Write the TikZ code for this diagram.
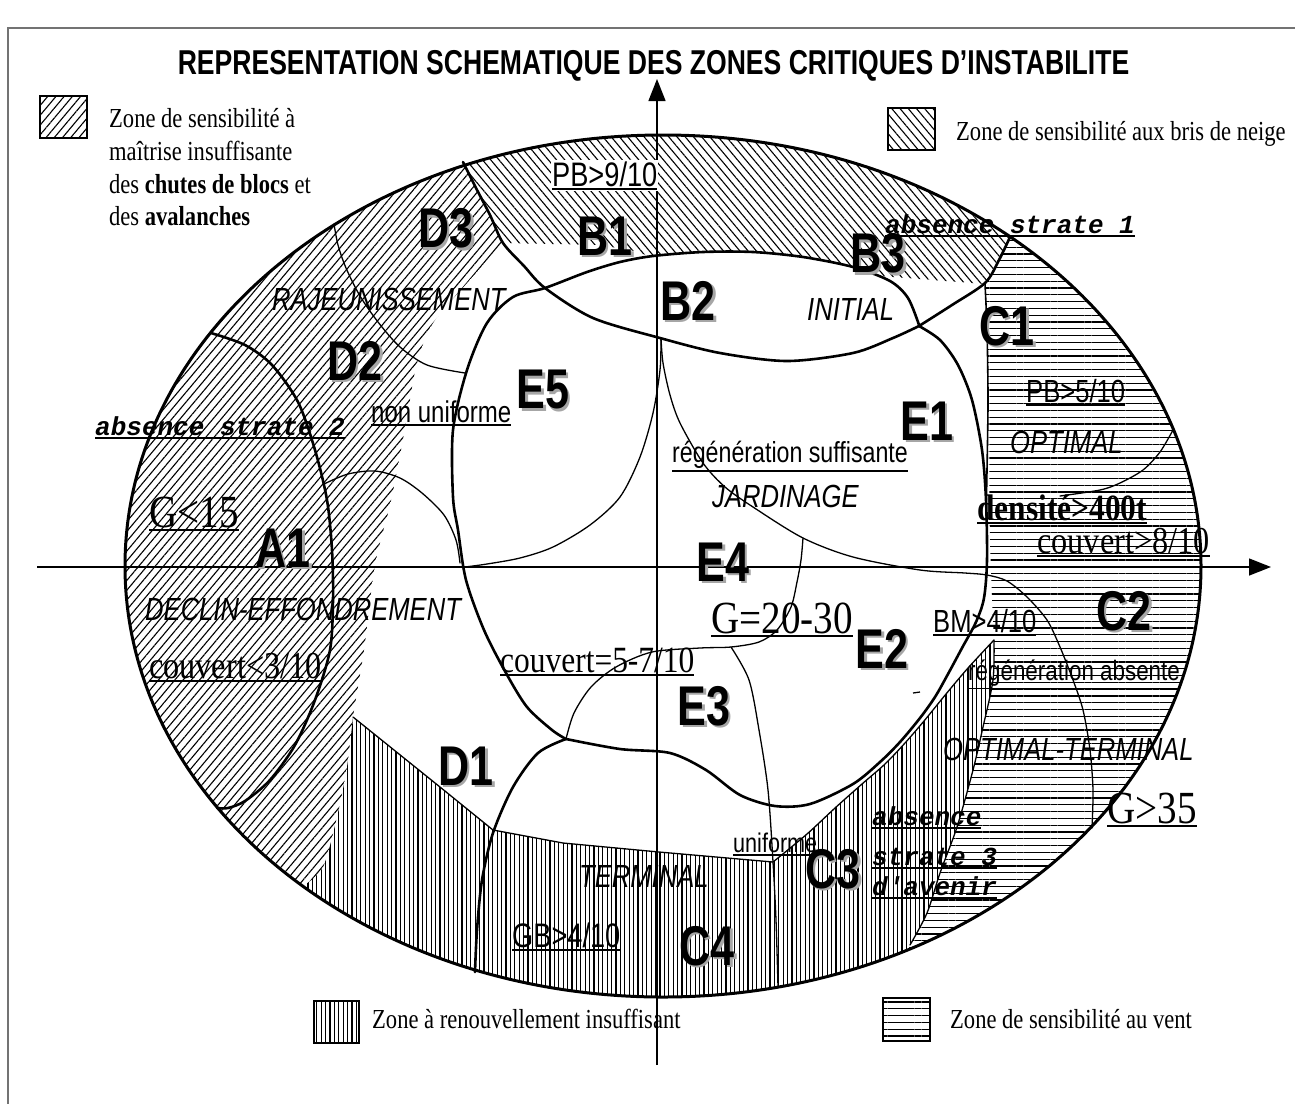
\documentclass[tikz,border=0pt]{standalone}
\usepackage{fontspec}
\setmainfont{Liberation Serif}
\newfontfamily\serc{Liberation Serif}[FakeStretch=0.85]
\newfontfamily\serl{Liberation Serif}[FakeStretch=0.82]
\newfontfamily\sanc{Liberation Sans}[FakeStretch=0.8]
\newfontfamily\bigf{Liberation Sans}[FakeStretch=0.77]
\newfontfamily\courf{Liberation Mono}
\usetikzlibrary{patterns.meta,arrows.meta}
\newcommand\ulin[1]{\begingroup\setbox0=\hbox{#1}\rlap{\rule[\dimexpr-\dp0-3.5pt\relax]{\wd0}{1.6pt}}\box0\endgroup}
\newcommand\shd[1]{\makebox[0pt][l]{\hspace{2.5pt}\raisebox{-2.5pt}{\textcolor{black!35}{#1}}}#1}
\begin{document}
\begin{tikzpicture}[x=1pt,y=-1pt,
  thk/.style={line width=2.6pt, line join=round, line cap=round},
  thn/.style={line width=1.3pt, line join=round, line cap=round},
  hatchA/.style={pattern={Lines[angle=50,distance=6.3pt,line width=1.1pt]}},
  hatchB/.style={pattern={Lines[angle=130,distance=6.3pt,line width=1.1pt]}},
  hatchV/.style={pattern={Lines[angle=90,distance=4.4pt,line width=1.1pt]}},
  hatchH/.style={pattern={Lines[angle=0,distance=6.8pt,line width=1.1pt]}},
  legbox/.style={line width=1.8pt},
  axis/.style={line width=1.4pt, -{Triangle[length=22pt,width=17pt]}},
  titlef/.style={font=\bigf\bfseries\fontsize{34.5}{36}\selectfont, anchor=base, inner sep=0pt},
  big/.style={font=\bigf\bfseries\fontsize{56}{56}\selectfont, inner sep=0pt},
  leg/.style={font=\serl\fontsize{27.5}{28}\selectfont, anchor=base west, inner sep=0pt},
  isans/.style={font=\sanc\itshape\fontsize{32}{32}\selectfont, anchor=base west, inner sep=0pt},
  nsans/.style={font=\sanc\fontsize{#1}{#1}\selectfont, anchor=base west, inner sep=0pt},
  serlab/.style={font=\serc\fontsize{#1}{#1}\selectfont, anchor=base west, inner sep=0pt},
  cour/.style={font=\courf\bfseries\itshape\fontsize{26}{26}\selectfont, anchor=base west, inner sep=0pt}
]
\useasboundingbox (0,0) rectangle (1295,1104);
\fill[white] (0,0) rectangle (1295,1104);
\draw[black!55, line width=1.2pt] (1295,28) -- (8,28) -- (8,1104);

% ---------- hatched zones ----------
\begin{scope}
\clip (663,566) ellipse [x radius=538pt, y radius=431pt];
\fill[hatchA] (425,50) -- plot[smooth] coordinates {(463,162) (476,188) (490,215) (503,243)}
  -- plot[smooth] coordinates {(503,243) (467,283) (433,323) (417,363) (407,417) (400,455) (390,505) (377,555) (370,600) (364,650) (353,717) (347,767) (337,817) (323,867) (303,886)}
  -- (290,930) -- (0,1010) -- (0,50) -- cycle;
\fill[hatchB] (425,50) -- plot[smooth] coordinates {(463,162) (476,188) (490,215) (503,243)}
  -- (600,245) -- plot[smooth] coordinates {(640,252) (653,256) (703,252) (753,252) (803,257) (853,267) (880,276)}
  -- (985,284) -- (1010,237) -- (1040,180) -- (1040,50) -- cycle;
\fill[hatchH] (1010,237) -- plot[smooth] coordinates {(985,284) (987,330) (988,400) (989,470) (990,540) (992,600) (994,640)}
  -- plot[smooth] coordinates {(994,640) (993,680) (983,727) (973,770) (957,827) (940,873) (927,913) (910,945)}
  -- (893,995) -- (1300,1010) -- (1300,100) -- (1045,170) -- cycle;
\fill[hatchV] (353,717) -- (440,787) -- (493,830) -- (563,843) -- (659,852) -- (773,862)
  -- plot[smooth] coordinates {(773,862) (807,834) (835,808) (862,784) (885,764) (905,743) (924,721) (946,694) (968,668) (994,640)}
  -- plot[smooth] coordinates {(994,640) (993,680) (983,727) (973,770) (957,827) (940,873) (927,913) (910,945)}
  -- (893,995) -- (660,1080) -- (280,965) -- (290,930)
  -- plot[smooth] coordinates {(303,886) (323,867) (337,817) (347,767) (353,717)} -- cycle;
\end{scope}

% ---------- axes ----------
\draw[axis] (37,567) -- (1271,567);
\draw[axis] (657,1065) -- (657,79);

% ---------- boundaries ----------
\draw[line width=3pt] (663,566) ellipse [x radius=538pt, y radius=431pt];
% A1
\draw[thk] plot[smooth] coordinates {(211,333) (245,345) (272,365) (298,402) (315,450) (327,500) (332,550) (333,600) (330,650) (315,700) (295,745) (270,780) (245,801) (228,808) (217,808)};
% D2/D3
\draw[thn] plot[smooth] coordinates {(334,224) (338,245) (346,268) (360,296) (378,322) (400,347) (427,365) (465,373)};
% D2/A1
\draw[thn] plot[smooth] coordinates {(324,484) (348,474) (375,471) (400,478) (422,493) (444,515) (456,540) (460,563)};
% D3/B1 and B2 bottom
\draw[thk] plot[smooth] coordinates {(463,162) (476,188) (490,215) (503,243) (524,266) (545,288) (593,318) (660,338) (720,353) (787,361) (853,353) (893,338) (919,326)};
% E left and B2 top
\draw[thk] plot[smooth] coordinates {(566,739) (552,730) (527,707) (506,673) (484,630) (466,580) (458,530) (453,497) (453,430) (467,370) (487,323) (513,297) (545,288) (587,272) (620,262) (653,256) (703,252) (753,252) (803,257) (853,267) (890,281) (908,298) (919,325)};
% E1 right and E bottom
\draw[thk] plot[smooth] coordinates {(919,326) (940,340) (958,365) (972,400) (982,450) (986,500) (987,560) (984,598) (976,622) (962,648) (948,674) (935,697) (920,718) (900,742) (880,762) (853,784) (810,804) (775,806) (740,795) (706,770) (670,753) (620,749) (566,739)};
% B3/C1
\draw[thk] plot[smooth] coordinates {(919,326) (952,305) (985,283) (999,260) (1010,237)};
% C1 left edge
\draw[line width=1.6pt] plot[smooth] coordinates {(985,284) (987,330) (988,400) (987,470) (986,520)};
% hatch edges
\draw[thn] plot[smooth] coordinates {(994,640) (993,680) (983,727) (973,770) (957,827) (940,873) (927,913) (910,945)};
\draw[thn] (353,717) -- (440,787) -- (493,830) -- (563,843) -- (659,852) -- (773,862);
\draw[thn] plot[smooth] coordinates {(773,862) (807,834) (835,808) (862,784) (885,764) (905,743) (924,721) (946,694) (968,668) (994,640)};
% D1/C4
\draw[thk] plot[smooth] coordinates {(566,739) (538,753) (513,787) (493,833) (482,880) (477,930) (475,972)};
% E5 right
\draw[thn] plot[smooth] coordinates {(661,338) (660,370) (653,413) (640,457) (620,497) (590,525) (553,547) (520,558) (487,564) (465,567)};
% E1/E4 and through C2
\draw[thn] plot[smooth] coordinates {(661,338) (663,363) (670,395) (680,423) (703,463) (725,487) (753,507) (803,538) (853,557) (920,570) (965,573) (987,575) (1007,581) (1027,597) (1047,620) (1060,647) (1073,680) (1083,710) (1090,750) (1093,790) (1092,828)};
% E4/E2
\draw[thn] plot[smooth] coordinates {(803,538) (801,560) (797,582) (791,607) (777,630) (759,642) (731,647) (700,648) (652,652) (616,667) (591,687) (574,713) (566,739)};
% E3/E2 and C4/C3
\draw[thn] plot[smooth] coordinates {(731,647) (749,680) (759,730) (768,790) (773,862) (776,920) (778,987)};
% C1/C2
\draw[thn] plot[smooth] coordinates {(1173,430) (1160,452) (1143,470) (1120,483) (1100,490) (1060,496)};
\draw[line width=1.3pt] (913,693) -- (920,692);

% ---------- legend ----------
\draw[legbox, hatchA] (40,96) rectangle (87,138);
\draw[legbox, hatchB] (888,108) rectangle (935,150);
\draw[legbox, hatchV] (314,1001) rectangle (359,1043);
\draw[legbox, hatchH] (883,998) rectangle (930,1041);
\node[leg] (l1a) at (109,127) {Zone de sensibilité à};
\node[leg] (l1b) at (109,160) {maîtrise insuffisante};
\node[leg] (l1c) at (109,193) {des \textbf{chutes de blocs} et};
\node[leg] (l1d) at (109,225) {des \textbf{avalanches}};
\node[leg] (l2) at (956,140) {Zone de sensibilité aux bris de neige};
\node[leg] (l3) at (372,1028) {Zone à renouvellement insuffisant};
\node[leg] (l4) at (950,1028) {Zone de sensibilité au vent};

% ---------- title ----------
\node[titlef] (title) at (653.5,74) {REPRESENTATION SCHEMATIQUE DES ZONES CRITIQUES D’INSTABILITE};

% ---------- zone labels ----------
\node[big] (B1) at (605,237) {\shd{B1}};
\node[big] (D3) at (446,230) {\shd{D3}};
\node[big] (B3) at (878,255) {\shd{B3}};
\node[big] (B2) at (688,302) {\shd{B2}};
\node[big] (C1) at (1007,327) {\shd{C1}};
\node[big] (D2) at (355,362) {\shd{D2}};
\node[big] (E5) at (543,391) {\shd{E5}};
\node[big] (E1) at (927,422) {\shd{E1}};
\node[big] (A1) at (283,549) {\shd{A1}};
\node[big] (E4) at (723,563) {\shd{E4}};
\node[big] (C2) at (1124,612) {\shd{C2}};
\node[big] (E2) at (882,650) {\shd{E2}};
\node[big] (E3) at (704,707) {\shd{E3}};
\node[big] (D1) at (466,767) {\shd{D1}};
\node[big] (C3) at (833,870) {\shd{C3}};
\node[big] (C4) at (707,947) {\shd{C4}};

% ---------- italic phase labels ----------
\node[isans] (ini) at (807,320) {INITIAL};
\node[isans] (raj) at (272,310) {RAJEUNISSEMENT};
\node[isans] (opt) at (1010,453) {OPTIMAL};
\node[isans] (jar) at (712,507) {JARDINAGE};
\node[isans] (dec) at (145,620) {DECLIN-EFFONDREMENT};
\node[isans] (optt) at (943,760) {OPTIMAL-TERMINAL};
\node[isans] (ter) at (579,887) {TERMINAL};

% ---------- criteria ----------
\node[nsans=34, fill=white, inner sep=1pt] (pb9) at (551,186) {\ulin{PB>9/10}};
\node[nsans=32] (pb5) at (1026,402) {\ulin{PB>5/10}};
\node[nsans=32] (bm) at (933,632) {\ulin{BM>4/10}};
\node[nsans=34] (gb) at (512,947) {\ulin{GB>4/10}};
\node[nsans=30] (nonu) at (371,422) {\ulin{non uniforme}};
\node[nsans=27] (unif) at (733,852) {\ulin{uniforme}};
\node[nsans=29] (regs) at (672,462) {\ulin{régénération suffisante}};
\node[nsans=28] (rega) at (968,680) {\ulin{régénération absente}};

\node[serlab=46] (g15) at (149,527) {\ulin{G<15}};
\node[serlab=46] (g2030) at (711,633) {\ulin{G=20-30}};
\node[serlab=46] (g35) at (1107,823) {\ulin{G>35}};
\node[serlab=38] (c310) at (149,678) {\ulin{couvert<3/10}};
\node[serlab=38] (c810) at (1037,553) {\ulin{couvert>8/10}};
\node[serlab=37] (c57) at (500,672) {\ulin{couvert=5-7/10}};
\node[serlab=37] (dens) at (977,520) {\ulin{\bfseries densité>400t}};

\node[cour] (as1) at (885,233) {\ulin{absence strate 1}};
\node[cour] (as2) at (95,435) {\ulin{absence strate 2}};
\node[cour] (as3a) at (872,825) {\ulin{absence}};
\node[cour] (as3b) at (872,865) {\ulin{strate 3}};
\node[cour] (as3c) at (872,895) {\ulin{d'avenir}};
\end{tikzpicture}
\end{document}
